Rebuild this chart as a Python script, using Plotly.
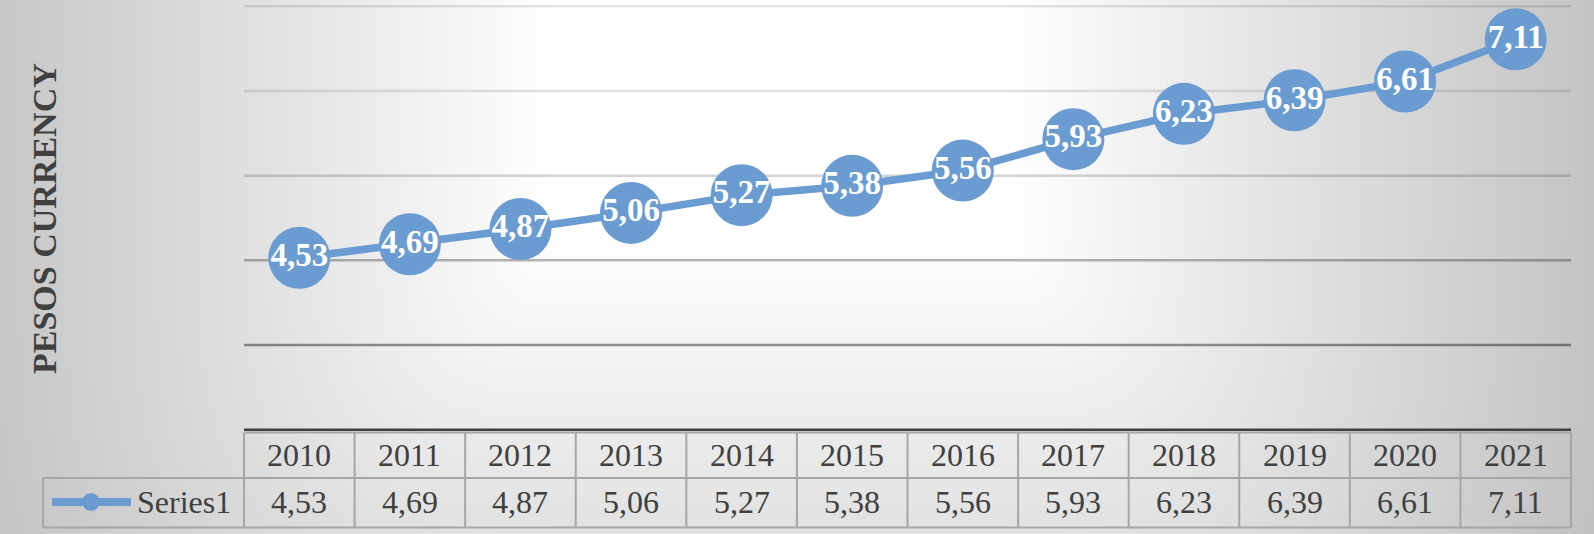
import base64, struct, zlib
import numpy as np
import plotly.graph_objects as go

# ---------------- data ----------------
YEARS = ["2010", "2011", "2012", "2013", "2014", "2015",
         "2016", "2017", "2018", "2019", "2020", "2021"]
VALUES = [4.53, 4.69, 4.87, 5.06, 5.27, 5.38, 5.56, 5.93, 6.23, 6.39, 6.61, 7.11]
SERIES_NAME = "Series1"
Y_TITLE = "PESOS CURRENCY"
GRID_VALUES = [3.5, 4.5, 5.5, 6.5, 7.5]
GRID_ALPHA = [0.42, 0.29, 0.17, 0.11, 0.10]

LABELS = [f"{v:.2f}".replace(".", ",") for v in VALUES]

# ---------------- layout constants ----------------
W, H = 1594, 534
ML, MR, MT, MB = 244, 23, 2, 100
PW, PH = W - ML - MR, H - MT - MB
FONT = "Liberation Serif, Times New Roman, serif"
TXT = "#404040"
BLUE = "#6A9BD1"
BORDER = "#A6A6A6"


def px(x):  # pixel -> paper x
    return (x - ML) / PW


def py(y):  # pixel -> paper y
    return (H - MB - y) / PH


# ---------------- background gradient (rectangular-ish from top center) ----------------
yy, xx = np.mgrid[0:H, 0:W].astype(float)
dx = np.maximum(0, np.abs(xx - 780) - 225)
dy = np.maximum(0, np.abs(yy - 0) - 240)
d = (dx ** 3 + dy ** 3) ** (1 / 3)
img = np.clip(255 - 0.1 * d, 0, 255).astype(np.uint8)


def png_gray(arr):
    h, w = arr.shape
    raw = b"".join(b"\x00" + arr[i].tobytes() for i in range(h))

    def chunk(t, data):
        c = struct.pack(">I", len(data)) + t + data
        return c + struct.pack(">I", zlib.crc32(t + data) & 0xFFFFFFFF)

    return (b"\x89PNG\r\n\x1a\n"
            + chunk(b"IHDR", struct.pack(">IIBBBBB", w, h, 8, 0, 0, 0, 0))
            + chunk(b"IDAT", zlib.compress(raw, 9))
            + chunk(b"IEND", b""))


bg_uri = "data:image/png;base64," + base64.b64encode(png_gray(img)).decode()

idx = list(range(len(YEARS)))

fig = go.Figure()
fig.add_trace(go.Scatter(
    x=idx, y=VALUES, mode="lines+markers+text", name=SERIES_NAME,
    line=dict(color=BLUE, width=7.5),
    marker=dict(color=BLUE, size=62, line=dict(width=0)),
    text=LABELS, textposition="middle center",
    textfont=dict(family=FONT, size=33, color="white", weight="bold"),
    cliponaxis=False, showlegend=False, hoverinfo="skip",
))

shapes = []
# gridlines
for v, a in zip(GRID_VALUES, GRID_ALPHA):
    shapes.append(dict(type="line", xref="paper", yref="y", x0=0, x1=1, y0=v, y1=v,
                       line=dict(color=f"rgba(0,0,0,{a})", width=2.5), layer="below"))
# category axis line
shapes.append(dict(type="line", xref="paper", yref="y", x0=0, x1=1, y0=2.5, y1=2.5,
                   line=dict(color=TXT, width=2.5)))
# data table
t_top, t_mid, t_bot = py(432.5), py(478), py(527.5)
leg_l = px(43)
bl = dict(color=BORDER, width=2)
shapes += [
    dict(type="line", xref="paper", yref="paper", x0=0, x1=1, y0=t_top, y1=t_top, line=bl),
    dict(type="line", xref="paper", yref="paper", x0=leg_l, x1=1, y0=t_mid, y1=t_mid, line=bl),
    dict(type="line", xref="paper", yref="paper", x0=leg_l, x1=1, y0=t_bot, y1=t_bot, line=bl),
    dict(type="line", xref="paper", yref="paper", x0=0, x1=0, y0=t_top, y1=t_bot, line=bl),
    dict(type="line", xref="paper", yref="paper", x0=1, x1=1, y0=t_top, y1=t_bot, line=bl),
    dict(type="line", xref="paper", yref="paper", x0=leg_l, x1=leg_l, y0=t_mid, y1=t_bot, line=bl),
]
for i in idx[:-1]:
    shapes.append(dict(type="line", xref="x", yref="paper", x0=i + 0.5, x1=i + 0.5,
                       y0=t_top, y1=t_bot, line=bl))
# legend key
ly = py(502)
shapes.append(dict(type="line", xref="paper", yref="paper", x0=px(52), x1=px(131), y0=ly, y1=ly,
                   line=dict(color=BLUE, width=8)))
shapes.append(dict(type="circle", xref="paper", yref="paper",
                   x0=px(91 - 9), x1=px(91 + 9), y0=ly - 9 / PH, y1=ly + 9 / PH,
                   fillcolor=BLUE, line=dict(width=0)))

annotations = []
for i, yr, lab in zip(idx, YEARS, LABELS):
    annotations.append(dict(x=i, xref="x", y=py(455), yref="paper", text=yr, showarrow=False,
                            xanchor="center", yanchor="middle",
                            font=dict(family=FONT, size=32, color=TXT)))
    annotations.append(dict(x=i, xref="x", y=py(502), yref="paper", text=lab, showarrow=False,
                            xanchor="center", yanchor="middle",
                            font=dict(family=FONT, size=32, color=TXT)))
annotations.append(dict(x=px(135), xref="paper", y=py(502), yref="paper", text=SERIES_NAME,
                        showarrow=False, xanchor="left", yanchor="middle",
                        font=dict(family=FONT, size=32, color=TXT)))
annotations.append(dict(x=px(44), xref="paper", y=py(218), yref="paper", text=f"<b>{Y_TITLE}</b>",
                        showarrow=False, textangle=-90, xanchor="center", yanchor="middle",
                        font=dict(family=FONT, size=34, color=TXT)))

fig.update_layout(
    width=W, height=H,
    margin=dict(l=ML, r=MR, t=MT, b=MB, pad=0),
    paper_bgcolor="#d6d6d6", plot_bgcolor="rgba(0,0,0,0)",
    xaxis=dict(range=[-0.5, len(YEARS) - 0.5], showgrid=False,
               showticklabels=False, showline=False, zeroline=False, ticks=""),
    yaxis=dict(range=[2.45, 7.55], showgrid=False, showticklabels=False,
               showline=False, zeroline=False, ticks=""),
    shapes=shapes, annotations=annotations,
    images=[dict(source=bg_uri, xref="paper", yref="paper", x=-ML / PW, y=1 + MT / PH,
                 sizex=W / PW, sizey=H / PH, sizing="stretch", xanchor="left",
                 yanchor="top", layer="below")],
    showlegend=False,
)

fig.write_html("out.html",
               config={"displayModeBar": False},
               post_script="document.body.style.margin='0';document.body.style.overflow='hidden';")
